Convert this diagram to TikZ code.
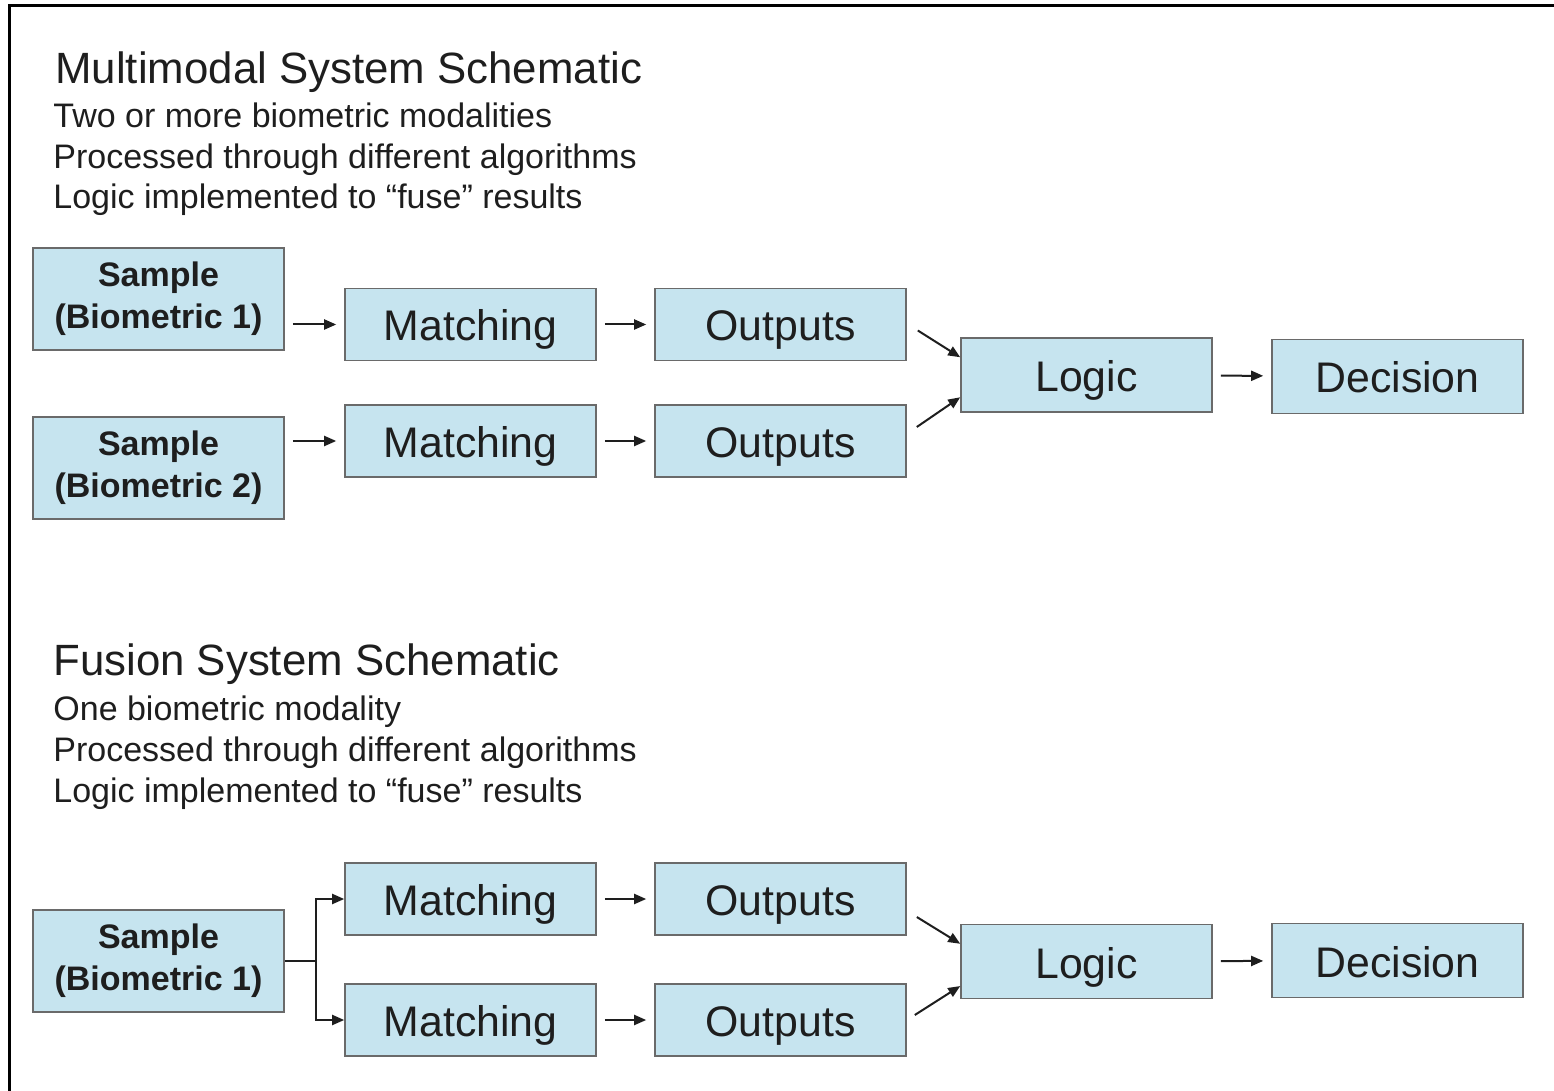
\documentclass[tikz,border=0pt]{standalone}
\usepackage{fontspec}
\setmainfont{Liberation Sans}
\usetikzlibrary{arrows.meta}

\definecolor{boxfill}{HTML}{C6E4EF}
\definecolor{boxline}{HTML}{6A6A6A}
\definecolor{inkgray}{HTML}{1E1E1E}

\tikzset{
  cell/.style={draw=boxline, fill=boxfill, line width=0.8pt, inner sep=0pt,
    minimum width=125.5pt, text=inkgray},
  box/.style={cell, minimum height=36pt, text height=16.5pt, text depth=0pt,
    font=\fontsize{21.4}{25}\selectfont},
  samplebox/.style={cell, minimum height=51pt, align=center,
    font=\fontsize{17}{21}\selectfont\bfseries},
  headtext/.style={anchor=base west, inner sep=0pt, text=inkgray,
    font=\fontsize{21.9}{26}\selectfont},
  subtext/.style={anchor=base west, inner sep=0pt, text=inkgray,
    font=\fontsize{17}{20.5}\selectfont},
  flow/.style={draw=inkgray, line width=1pt, -{Triangle[length=6pt,width=5pt]}},
  gapflow/.style={flow, shorten <=4pt, shorten >=4pt}
}

\begin{document}
\begin{tikzpicture}[x=0.5pt, y=-0.5pt]
    \useasboundingbox (0,0) rectangle (1554,1091);
    % frame
    \draw [line width=1.9pt] (9.5,1091) -- (9.5,5.5) -- (1554,5.5);

    % multimodal
    \node [headtext] (mhead) at (55,84) {Multimodal System Schematic};
    \node [subtext] (msub1) at (53,128) {Two or more biometric modalities};
    \node [subtext] (msub2) at (53,169) {Processed through different algorithms};
    \node [subtext] (msub3) at (53,209) {Logic implemented to “fuse” results};

    \node [samplebox] (s1) at (158.5,299) {Sample\\(Biometric 1)};
    \node [samplebox] (s2) at (158.5,468) {Sample\\(Biometric 2)};
    \node [box] (m1) at (470.5,324.5) {Matching};
    \node [box] (m2) at (470.5,441) {Matching};
    \node [box] (o1) at (780.5,324.5) {Outputs};
    \node [box] (o2) at (780.5,441) {Outputs};
    \node [box, minimum height=37pt] (l1) at (1086.5,375) {Logic};
    \node [box, minimum height=37pt] (d1) at (1397.5,376.5) {Decision};

    \draw [gapflow] (s1.east |- m1.west) -- (m1.west);
    \draw [gapflow] (s2.east |- m2.west) -- (m2.west);
    \draw [gapflow] (m1) -- (o1);
    \draw [gapflow] (m2) -- (o2);
    \draw [flow] (o1.east) ++(11,6) -- (l1.172);
    \draw [flow] (o2.east) ++(10,-14) -- (l1.190);
    \draw [gapflow] (l1) -- (d1);

    % fusion
    \node [headtext] (fhead) at (53,675) {Fusion System Schematic};
    \node [subtext] (fsub1) at (53,720) {One biometric modality};
    \node [subtext] (fsub2) at (53,761) {Processed through different algorithms};
    \node [subtext] (fsub3) at (53,802) {Logic implemented to “fuse” results};

    \node [samplebox] (s3) at (158.5,961) {Sample\\(Biometric 1)};
    \node [box] (m3) at (470.5,899) {Matching};
    \node [box] (m4) at (470.5,1020) {Matching};
    \node [box] (o3) at (780.5,899) {Outputs};
    \node [box] (o4) at (780.5,1020) {Outputs};
    \node [box, minimum height=37pt] (l2) at (1086.5,961.5) {Logic};
    \node [box, minimum height=37pt] (d2) at (1397.5,960.5) {Decision};

    \draw [draw=inkgray, line width=1pt] (s3.east) -- ++(31,0) coordinate (fork);
    \draw [flow] (fork) |- (m3.west);
    \draw [flow] (fork) |- (m4.west);
    \draw [gapflow] (m3) -- (o3);
    \draw [gapflow] (m4) -- (o4);
    \draw [flow] (o3.east) ++(10,18) -- (l2.172);
    \draw [flow] (o4.east) ++(8,-5) -- (l2.191);
    \draw [gapflow] (l2) -- (d2);
  \end{tikzpicture}
\end{document}
